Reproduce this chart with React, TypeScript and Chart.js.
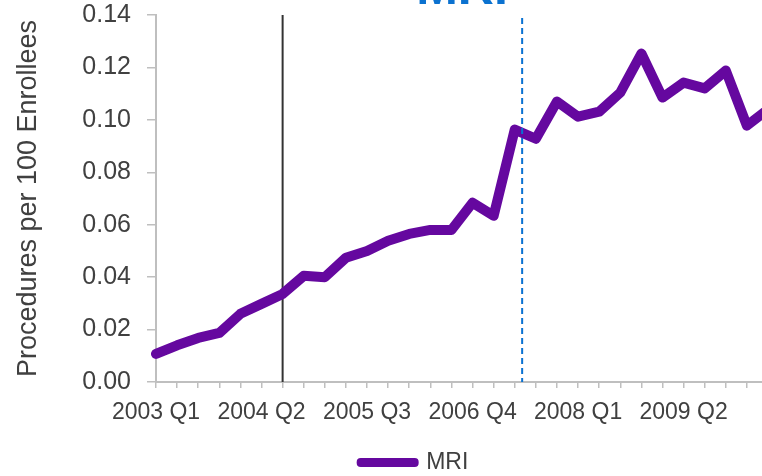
import React, { useEffect, useRef } from "react";
import { Chart, registerables } from "chart.js";

Chart.register(...registerables);

const quarters: string[] = [
  "2003 Q1", "2003 Q2", "2003 Q3", "2003 Q4",
  "2004 Q1", "2004 Q2", "2004 Q3", "2004 Q4",
  "2005 Q1", "2005 Q2", "2005 Q3", "2005 Q4",
  "2006 Q1", "2006 Q2", "2006 Q3", "2006 Q4",
  "2007 Q1", "2007 Q2", "2007 Q3", "2007 Q4",
  "2008 Q1", "2008 Q2", "2008 Q3", "2008 Q4",
  "2009 Q1", "2009 Q2", "2009 Q3", "2009 Q4",
  "2010 Q1", "2010 Q2",
];

const mriValues: number[] = [
  0.0107, 0.014, 0.0168, 0.0187,
  0.026, 0.0298, 0.0336, 0.0405,
  0.04, 0.0474, 0.05, 0.0539,
  0.0565, 0.058, 0.058, 0.0684,
  0.0634, 0.0963, 0.0928, 0.107,
  0.1012, 0.1031, 0.1104, 0.1253,
  0.1085, 0.1142, 0.112, 0.1188,
  0.0978, 0.104,
];

const labelEvery = 5;
const solidMarkerIndex = 6; // 2004 Q3
const dashedMarkerIndex = 17.35; // between 2007 Q2 and 2007 Q3

const FONT = "'Liberation Sans', Arial, Helvetica, sans-serif";

const PAD_LEFT = 61;
const PLOT_LEFT = 156;

const markerPlugin = {
  id: "markers",
  beforeDatasetsDraw(chart: any) {
    const { ctx, chartArea, scales } = chart;
    const x = scales.x.getPixelForValue(solidMarkerIndex);
    ctx.save();
    ctx.strokeStyle = "#333333";
    ctx.lineWidth = 2;
    ctx.beginPath();
    ctx.moveTo(x, chartArea.top);
    ctx.lineTo(x, chartArea.bottom);
    ctx.stroke();
    ctx.restore();
  },
  afterDatasetsDraw(chart: any) {
    const { ctx, chartArea, scales } = chart;
    const x = scales.x.getPixelForValue(dashedMarkerIndex);
    ctx.save();
    ctx.strokeStyle = "#0a72d2";
    ctx.lineWidth = 2;
    ctx.setLineDash([6, 4]);
    ctx.beginPath();
    ctx.moveTo(x, chartArea.top + 3);
    ctx.lineTo(x, chartArea.bottom);
    ctx.stroke();
    ctx.restore();
  },
};

export default function App() {
  const canvasRef = useRef<HTMLCanvasElement | null>(null);

  useEffect(() => {
    if (!canvasRef.current) return;
    const chart = new Chart(canvasRef.current, {
      type: "line",
      data: {
        labels: quarters,
        datasets: [
          {
            label: "MRI",
            data: mriValues,
            borderColor: "#65089f",
            backgroundColor: "#65089f",
            borderWidth: 10,
            borderJoinStyle: "round",
            borderCapStyle: "round",
            pointRadius: 0,
            tension: 0,
            fill: false,
          },
        ],
      },
      options: {
        animation: false,
        responsive: true,
        maintainAspectRatio: false,
        layout: { padding: { left: PAD_LEFT, right: 56, top: 0, bottom: 8 } },
        plugins: {
          tooltip: { enabled: false },
          title: {
            display: true,
            text: "MRI",
            color: "#0b72d0",
            fullSize: false,
            font: { family: FONT, size: 50, weight: "bold", lineHeight: 1 },
            padding: { top: 5, bottom: 0 },
          },
          legend: {
            display: true,
            position: "bottom",
            labels: {
              color: "#404040",
              font: { family: FONT, size: 23 },
              boxWidth: 54,
              boxHeight: 1,
              padding: 10,
              generateLabels: (c: any) =>
                c.data.datasets.map((ds: any, i: number) => ({
                  text: ds.label,
                  fillStyle: ds.borderColor,
                  strokeStyle: ds.borderColor,
                  lineWidth: 8,
                  lineJoin: "round",
                  lineCap: "round",
                  hidden: false,
                  datasetIndex: i,
                  fontColor: "#404040",
                })),
            },
          },
        },
        scales: {
          x: {
            type: "category",
            offset: false,
            afterFit: (s: any) => {
              s.height = 59;
            },
            grid: {
              display: true,
              drawOnChartArea: false,
              drawTicks: true,
              tickLength: 6,
              color: "#bfbfbf",
              lineWidth: 1.5,
            },
            border: { display: true, color: "#bfbfbf", width: 2 },
            ticks: {
              autoSkip: false,
              maxRotation: 0,
              minRotation: 0,
              padding: 11,
              color: "#404040",
              font: { family: FONT, size: 23 },
              callback: (_v: any, i: number) => (i % labelEvery === 0 ? quarters[i] : ""),
            },
          },
          y: {
            min: 0,
            max: 0.14,
            afterFit: (s: any) => {
              s.width = PLOT_LEFT - PAD_LEFT;
            },
            grid: {
              display: true,
              drawOnChartArea: false,
              drawTicks: true,
              tickLength: 9,
              color: "#bfbfbf",
              lineWidth: 1.5,
            },
            border: { display: true, color: "#bfbfbf", width: 2 },
            ticks: {
              stepSize: 0.02,
              padding: 16,
              color: "#404040",
              font: { family: FONT, size: 25 },
              callback: (v: any) => Number(v).toFixed(2),
            },
            title: {
              display: true,
              text: "Procedures per 100 Enrollees",
              color: "#404040",
              font: { family: FONT, size: 27, lineHeight: 1.2 },
              padding: { top: 12 - PAD_LEFT, bottom: 0 },
            },
          },
        },
      },
      plugins: [markerPlugin],
    });
    return () => chart.destroy();
  }, []);

  return (
    <div
      style={{
        position: "fixed",
        left: 0,
        top: 0,
        width: 762,
        height: 476,
        overflow: "hidden",
        background: "#ffffff",
      }}
    >
      <div style={{ position: "absolute", left: 0, top: -40, width: 824, height: 532 }}>
        <canvas ref={canvasRef} />
      </div>
    </div>
  );
}
